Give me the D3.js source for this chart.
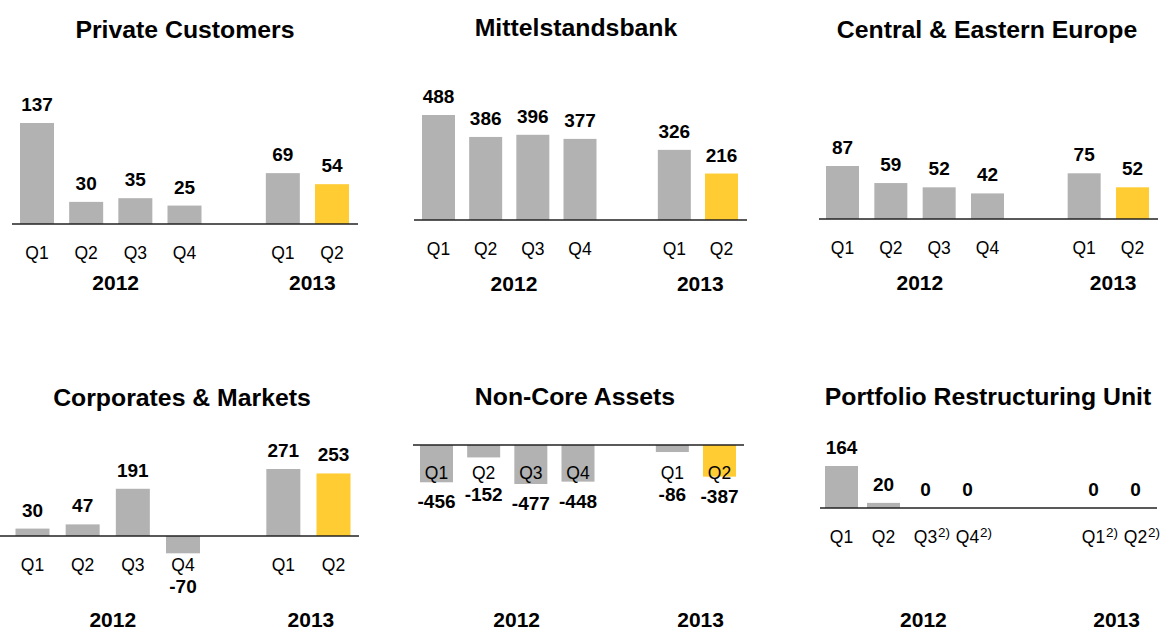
<!DOCTYPE html>
<html>
<head>
<meta charset="utf-8">
<script src="https://cdn.jsdelivr.net/npm/d3@7"></script>
<style>
  html, body { margin: 0; padding: 0; background: #fff; }
  svg text { font-family: "Liberation Sans", Arial, sans-serif; fill: #000; }
</style>
</head>
<body>
<div id="chart"></div>
<script>
/* Segment results by quarter, 2012 Q1 - 2013 Q2 (six small bar panels) */

var quarters = ["Q1", "Q2", "Q3", "Q4", "Q1", "Q2"];
var years = ["2012", "2013"];

var privateCustomers = [137, 30, 35, 25, 69, 54];
var mittelstandsbank = [488, 386, 396, 377, 326, 216];
var centralEasternEurope = [87, 59, 52, 42, 75, 52];
var corporatesMarkets = [30, 47, 191, -70, 271, 253];
var nonCoreAssets = [-456, -152, -477, -448, -86, -387];
var portfolioRestructuring = [164, 20, 0, 0, 0, 0];
var pruFootnotes = ["", "", "2)", "2)", "2)", "2)"];

var titles = ["Private Customers", "Mittelstandsbank", "Central & Eastern Europe",
  "Corporates & Markets", "Non-Core Assets", "Portfolio Restructuring Unit"];
var series = [privateCustomers, mittelstandsbank, centralEasternEurope,
  corporatesMarkets, nonCoreAssets, portfolioRestructuring];
var footnotes = [null, null, null, null, null, pruFootnotes];

// layout of each panel (pixels); c0/c6 = centre of slot 0 and slot 6
var layouts = [
  { tx: 185, ty: 38, axis: [12, 358], base: 224, ext: 123, c0: 37, c6: 332, slots: [0, 1, 2, 3, 5, 6], yearSlots: [1.6, 5.6], qy: 259, yy: 290, bw: 34 },
  { tx: 576, ty: 36, axis: [414, 747], base: 220, ext: 115, c0: 438.5, c6: 721.5, slots: [0, 1, 2, 3, 5, 6], yearSlots: [1.6, 5.55], qy: 255, yy: 291, bw: 33 },
  { tx: 987, ty: 38, axis: [819, 1158], base: 219, ext: 166, c0: 842.5, c6: 1132.5, slots: [0, 1, 2, 3, 5, 6], yearSlots: [1.6, 5.6], qy: 254, yy: 290, bw: 33 },
  { tx: 182, ty: 406, axis: [0, 359], base: 536, ext: 469, c0: 32.5, c6: 333.5, slots: [0, 1, 2, 3, 5, 6], yearSlots: [1.6, 5.55], qy: 571, yy: 627, bw: 34 },
  { tx: 575, ty: 405, axis: [413, 744], base: 445, ext: 484, c0: 436.5, c6: 719.5, slots: [0, 1, 2, 3, 5, 6], yearSlots: [1.7, 5.6], qy: 479, yy: 627, bw: 33 },
  { tx: 988, ty: 405, axis: [820, 1157], base: 508, ext: 466, c0: 841.5, c6: 1093.5, slots: [0, 1, 2, 3, 6, 7], yearSlots: [1.95, 6.55], qy: 543, yy: 627, bw: 33 }
];

var GREY = "#b2b2b2", GOLD = "#ffcc33";

var svg = d3.select("#chart").append("svg").attr("width", 1164).attr("height", 632);

series.forEach(function (values, p) {
  var L = layouts[p];
  var g = svg.append("g");

  var maxAbs = values.reduce(function (a, v) { return Math.abs(v) > Math.abs(a) ? v : a; }, 0);
  var y = d3.scaleLinear().domain([0, maxAbs]).range([L.base, L.ext]);
  var x = d3.scaleLinear().domain([0, 6]).range([L.c0, L.c6]);

  g.append("text").attr("x", L.tx).attr("y", L.ty).attr("text-anchor", "middle")
    .style("font-size", "24.8px").style("font-weight", "bold").text(titles[p]);

  // bars
  g.selectAll("rect.bar").data(values).enter().append("rect")
    .attr("class", "bar")
    .attr("x", function (d, i) { return x(L.slots[i]) - L.bw / 2; })
    .attr("y", function (d) { return Math.min(y(d), y(0)); })
    .attr("width", L.bw)
    .attr("height", function (d) { return Math.abs(y(d) - y(0)); })
    .attr("fill", function (d, i) { return i === values.length - 1 ? GOLD : GREY; });

  // baseline
  g.append("line").attr("x1", L.axis[0]).attr("x2", L.axis[1])
    .attr("y1", y(0)).attr("y2", y(0))
    .attr("stroke", "#222").attr("stroke-width", 1.5);

  // quarter labels
  g.selectAll("text.q").data(quarters).enter().append("text")
    .attr("class", "q")
    .attr("x", function (d, i) { return x(L.slots[i]); })
    .attr("y", L.qy).attr("text-anchor", "middle")
    .style("font-size", "17.5px").text(function (d) { return d; });

  if (footnotes[p]) {
    g.selectAll("text.fn").data(footnotes[p]).enter().append("text")
      .attr("class", "fn")
      .attr("x", function (d, i) { return x(L.slots[i]) + 12.5; })
      .attr("y", L.qy - 6)
      .style("font-size", "13.5px").text(function (d) { return d; });
  }

  // value labels
  g.selectAll("text.v").data(values).enter().append("text")
    .attr("class", "v")
    .attr("x", function (d, i) { return x(L.slots[i]); })
    .attr("y", function (d) {
      if (d >= 0) return y(d) - 12;
      return Math.max(y(d) + 26, L.qy + 22);
    })
    .attr("text-anchor", "middle")
    .style("font-size", "19px").style("font-weight", "bold")
    .text(function (d) { return d; });

  // year labels
  g.selectAll("text.yr").data(years).enter().append("text")
    .attr("class", "yr")
    .attr("x", function (d, i) { return x(L.yearSlots[i]); })
    .attr("y", L.yy).attr("text-anchor", "middle")
    .style("font-size", "21px").style("font-weight", "bold")
    .text(function (d) { return d; });
});
</script>
</body>
</html>
